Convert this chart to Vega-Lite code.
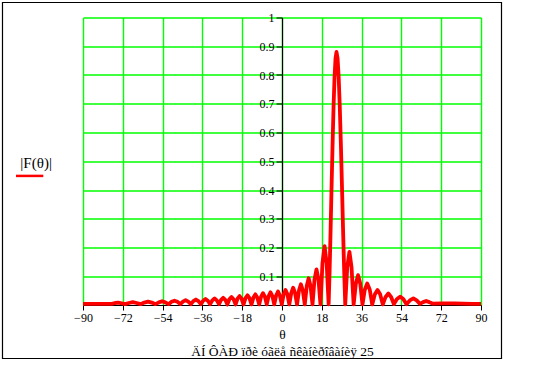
{
  "$schema": "https://vega.github.io/schema/vega-lite/v6.json",
  "width": 398,
  "height": 287.5,
  "autosize": {"type": "none"},
  "padding": {"left": 83, "top": 17.5, "right": 66, "bottom": 70},
  "background": "white",
  "config": {"view": {"stroke": null}, "font": "Liberation Serif"},
  "layer": [
    {
      "data": {"values": [
        {"t":-90,"F":0.004},{"t":-84,"F":0.004},{"t":-78,"F":0.004},{"t":-77,"F":0.004},
        {"t":-75.5,"F":0.007},{"t":-74,"F":0.008},{"t":-72.5,"F":0.006},{"t":-71,"F":0.003},
        {"t":-69.25,"F":0.007},{"t":-67.5,"F":0.010},{"t":-65.75,"F":0.007},{"t":-64,"F":0.003},
        {"t":-62.3,"F":0.0085},{"t":-60.6,"F":0.012},{"t":-58.9,"F":0.0085},{"t":-57.2,"F":0.003},
        {"t":-55.7,"F":0.009},{"t":-54.25,"F":0.013},{"t":-52.8,"F":0.009},{"t":-51.3,"F":0.003},
        {"t":-49.95,"F":0.011},{"t":-48.65,"F":0.015},{"t":-47.3,"F":0.011},{"t":-46.0,"F":0.003},
        {"t":-44.8,"F":0.012},{"t":-43.6,"F":0.017},{"t":-42.4,"F":0.012},{"t":-41.2,"F":0.003},
        {"t":-40.1,"F":0.0135},{"t":-38.95,"F":0.019},{"t":-37.8,"F":0.0135},{"t":-36.7,"F":0.003},
        {"t":-35.65,"F":0.015},{"t":-34.6,"F":0.021},{"t":-33.55,"F":0.015},{"t":-32.5,"F":0.003},
        {"t":-31.5,"F":0.016},{"t":-30.5,"F":0.023},{"t":-29.5,"F":0.016},{"t":-28.5,"F":0.003},
        {"t":-27.55,"F":0.018},{"t":-26.6,"F":0.025},{"t":-25.65,"F":0.018},{"t":-24.7,"F":0.002},
        {"t":-23.8,"F":0.020},{"t":-22.85,"F":0.028},{"t":-21.9,"F":0.020},{"t":-21.0,"F":0.002},
        {"t":-20.1,"F":0.022},{"t":-19.2,"F":0.031},{"t":-18.3,"F":0.022},{"t":-17.4,"F":0.002},
        {"t":-16.5,"F":0.024},{"t":-15.6,"F":0.034},{"t":-14.7,"F":0.024},{"t":-13.8,"F":0.002},
        {"t":-12.9,"F":0.026},{"t":-12.05,"F":0.037},{"t":-11.2,"F":0.026},{"t":-10.3,"F":0.002},
        {"t":-9.45,"F":0.029},{"t":-8.6,"F":0.041},{"t":-7.75,"F":0.029},{"t":-6.9,"F":0.002},
        {"t":-6.05,"F":0.031},{"t":-5.2,"F":0.044},{"t":-4.35,"F":0.031},{"t":-3.5,"F":0.002},
        {"t":-2.65,"F":0.033},{"t":-1.8,"F":0.047},{"t":-0.95,"F":0.033},{"t":-0.1,"F":0.002},
        {"t":0.75,"F":0.037},{"t":1.6,"F":0.052},{"t":2.45,"F":0.037},{"t":3.3,"F":0.002},
        {"t":4.2,"F":0.042},{"t":5.05,"F":0.060},{"t":5.9,"F":0.042},{"t":6.8,"F":0.002},
        {"t":7.7,"F":0.051},{"t":8.55,"F":0.072},{"t":9.4,"F":0.051},{"t":10.3,"F":0.002},
        {"t":11.2,"F":0.066},{"t":12.05,"F":0.093},{"t":12.9,"F":0.066},{"t":13.8,"F":0.002},
        {"t":14.7,"F":0.088},{"t":15.6,"F":0.124},{"t":16.5,"F":0.088},{"t":17.4,"F":0.002},
        {"t":18.3,"F":0.145},{"t":19.25,"F":0.205},{"t":20.2,"F":0.145},{"t":21.1,"F":0.002},
        {"t":21.54,"F":0.12},{"t":21.99,"F":0.264},{"t":22.43,"F":0.414},{"t":22.88,"F":0.56},
        {"t":23.32,"F":0.69},{"t":23.76,"F":0.792},{"t":24.21,"F":0.858},{"t":24.65,"F":0.88},
        {"t":25.14,"F":0.858},{"t":25.64,"F":0.792},{"t":26.13,"F":0.69},{"t":26.63,"F":0.56},
        {"t":27.12,"F":0.414},{"t":27.61,"F":0.264},{"t":28.11,"F":0.12},{"t":28.6,"F":0.002},
        {"t":29.5,"F":0.131},{"t":30.5,"F":0.185},{"t":31.45,"F":0.131},{"t":32.4,"F":0.002},
        {"t":33.4,"F":0.074},{"t":34.4,"F":0.104},{"t":35.4,"F":0.074},{"t":36.4,"F":0.002},
        {"t":37.45,"F":0.053},{"t":38.55,"F":0.075},{"t":39.7,"F":0.053},{"t":40.8,"F":0.002},
        {"t":42.0,"F":0.037},{"t":43.2,"F":0.052},{"t":44.4,"F":0.037},{"t":45.6,"F":0.002},
        {"t":46.85,"F":0.028},{"t":48.1,"F":0.040},{"t":49.35,"F":0.028},{"t":50.6,"F":0.003},
        {"t":52.0,"F":0.021},{"t":53.4,"F":0.029},{"t":54.85,"F":0.021},{"t":56.3,"F":0.003},
        {"t":57.8,"F":0.016},{"t":59.4,"F":0.023},{"t":60.9,"F":0.016},{"t":62.4,"F":0.004},
        {"t":63.8,"F":0.010},{"t":65.2,"F":0.014},{"t":66.6,"F":0.010},{"t":68.0,"F":0.005},
        {"t":72,"F":0.006},{"t":78,"F":0.006},{"t":82,"F":0.005},{"t":86,"F":0.004},{"t":90,"F":0.004}
      ]},
      "mark": {"type": "line", "color": "#ff0000", "strokeWidth": 3.8, "strokeJoin": "round", "clip": false},
      "encoding": {
        "x": {
          "field": "t", "type": "quantitative",
          "scale": {"domain": [-90, 90], "nice": false, "zero": false},
          "axis": {
            "values": [-90, -72, -54, -36, -18, 0, 18, 36, 54, 72, 90],
            "tickCount": 30,
            "title": ["θ", "ÄÍ ÔÀÐ ïðè  óãëå ñêàíèðîâàíèÿ 25"],
            "titleFont": "Liberation Serif", "titleFontSize": 13.5, "titleFontWeight": "normal",
            "titleColor": "black", "titleLineHeight": 17, "titlePadding": 4,
            "grid": true, "gridColor": "#00ff00", "gridOpacity": 1, "gridWidth": 1.4,
            "domainColor": "black", "domainWidth": 1.2, "tickColor": "black", "tickSize": 5,
            "labelFont": "Liberation Serif", "labelFontSize": 12, "labelColor": "black",
            "labelPadding": 2, "labelFlush": false, "labelOverlap": false
          }
        },
        "y": {
          "field": "F", "type": "quantitative",
          "scale": {"domain": [0, 1], "nice": false, "zero": false},
          "axis": {
            "values": [0.1, 0.2, 0.3, 0.4, 0.5, 0.6, 0.7, 0.8, 0.9, 1],
            "tickCount": 30,
            "format": "~g", "title": null, "offset": -199,
            "grid": true, "gridColor": "#00ff00", "gridOpacity": 1, "gridWidth": 1.4,
            "domainColor": "black", "domainWidth": 1.2, "tickColor": "black", "tickSize": 6,
            "labelFont": "Liberation Serif", "labelFontSize": 12, "labelColor": "black",
            "labelPadding": 2, "labelFlush": false, "labelOverlap": false
          }
        }
      }
    },
    {
      "data": {"values": [{"t": -126.41, "t2": 99.27, "F": 1.0522, "F2": -0.1861}]},
      "mark": {"type": "rect", "fillOpacity": 0, "stroke": "black", "strokeWidth": 1.2, "clip": false},
      "encoding": {
        "x": {"field": "t", "type": "quantitative"},
        "x2": {"field": "t2"},
        "y": {"field": "F", "type": "quantitative"},
        "y2": {"field": "F2"}
      }
    },
    {
      "data": {"values": [{"t": -111.2, "F": 0.494, "label": "|F(θ)|"}]},
      "mark": {"type": "text", "font": "Liberation Serif", "fontSize": 15, "color": "black", "align": "center", "baseline": "middle", "clip": false},
      "encoding": {
        "x": {"field": "t", "type": "quantitative"},
        "y": {"field": "F", "type": "quantitative"},
        "text": {"field": "label"}
      }
    },
    {
      "data": {"values": [{"t": -120.3, "t2": -107.96, "F": 0.449}]},
      "mark": {"type": "rule", "color": "#ff0000", "strokeWidth": 2.5, "clip": false},
      "encoding": {
        "x": {"field": "t", "type": "quantitative"},
        "x2": {"field": "t2"},
        "y": {"field": "F", "type": "quantitative"}
      }
    }
  ]
}
